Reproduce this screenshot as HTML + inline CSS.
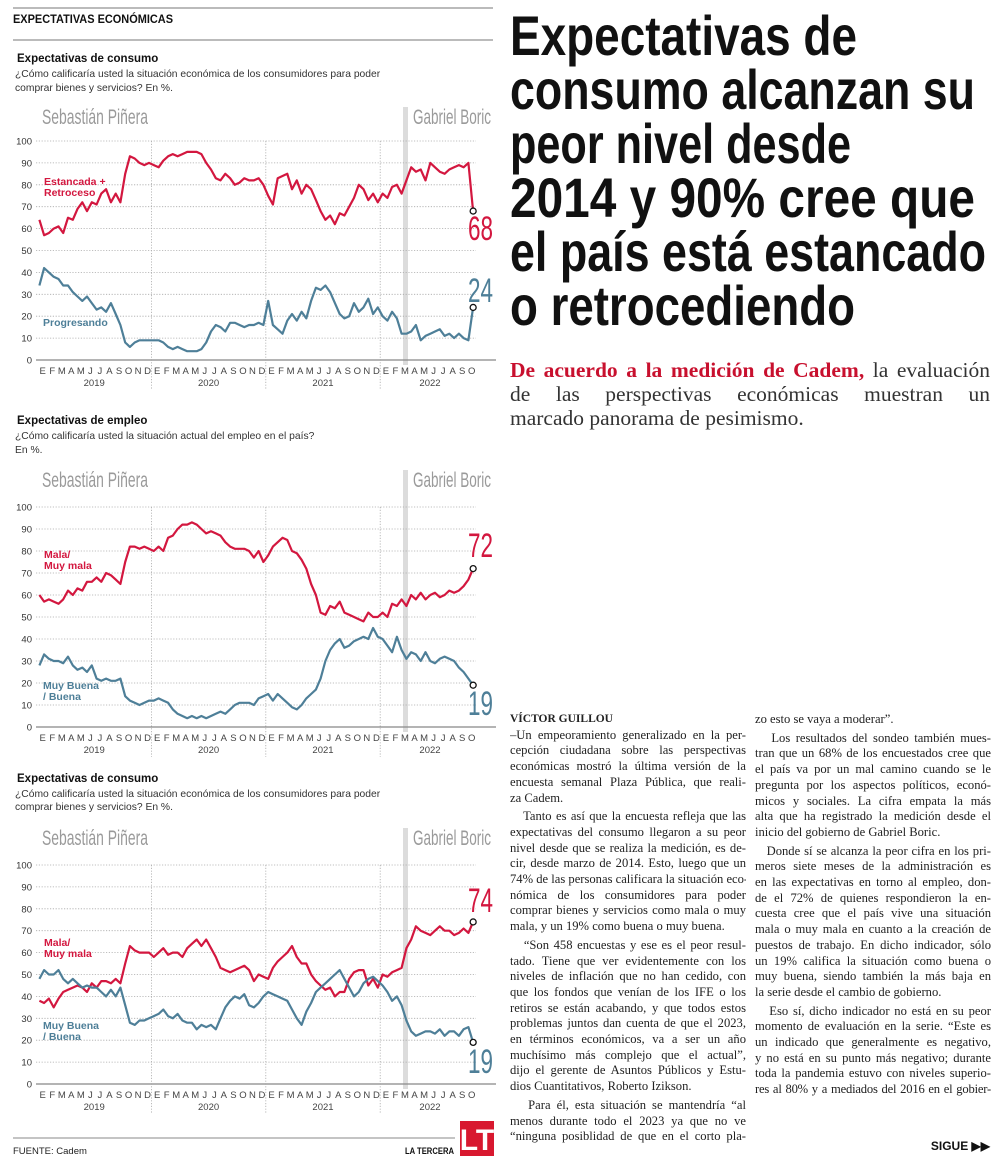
<!DOCTYPE html>
<html><head><meta charset="utf-8">
<style>
body{margin:0;background:#fff;width:1000px;height:1176px;position:relative;overflow:hidden;font-family:"Liberation Serif",serif;}
#gfx{position:absolute;left:0;top:0;}
.col{position:absolute;top:712px;width:236px;font-size:12.6px;line-height:15.7px;color:#222;font-family:"Liberation Serif",serif;}
.col div{text-align:justify;text-align-last:justify;white-space:nowrap;overflow:hidden;}
.col div.l{text-align-last:left;}
.col div.p{margin-top:3px;}
.sub{position:absolute;left:510px;top:358px;width:480px;font-size:21.5px;line-height:24px;color:#333;}
.sub div{white-space:nowrap;text-align:justify;text-align-last:justify;}
.sub div.l{text-align-last:left;}
</style></head>
<body>
<svg id="gfx" width="1000" height="1176" xmlns="http://www.w3.org/2000/svg">
<g>
<line x1="13" y1="8" x2="493" y2="8" stroke="#777" stroke-width="1"/>
<text x="13" y="23" font-family="Liberation Sans, sans-serif" font-weight="bold" font-size="11.5" fill="#111" textLength="160" lengthAdjust="spacingAndGlyphs">EXPECTATIVAS ECONÓMICAS</text>
<line x1="13" y1="40" x2="493" y2="40" stroke="#777" stroke-width="1"/>
</g>
<g font-family="Liberation Sans, sans-serif" font-weight="bold" font-size="56" fill="#111">
<text x="510" y="55" textLength="347" lengthAdjust="spacingAndGlyphs">Expectativas de</text>
<text x="510" y="109" textLength="465" lengthAdjust="spacingAndGlyphs">consumo alcanzan su</text>
<text x="510" y="163" textLength="341" lengthAdjust="spacingAndGlyphs">peor nivel desde</text>
<text x="510" y="217" textLength="465" lengthAdjust="spacingAndGlyphs">2014 y 90% cree que</text>
<text x="510" y="271" textLength="476" lengthAdjust="spacingAndGlyphs">el país está estancado</text>
<text x="510" y="325" textLength="345" lengthAdjust="spacingAndGlyphs">o retrocediendo</text>
</g>
<g id="charts"></g>
<g>
<line x1="13" y1="1138" x2="455" y2="1138" stroke="#888" stroke-width="1"/>
<text x="13" y="1154" font-family="Liberation Sans, sans-serif" font-size="9.5" fill="#222">FUENTE: Cadem</text>
<text x="405" y="1154" font-family="Liberation Sans, sans-serif" font-weight="bold" font-size="9.5" fill="#111" textLength="49" lengthAdjust="spacingAndGlyphs">LA TERCERA</text>
<rect x="460" y="1121" width="34" height="35" fill="#d8182f"/>
<text x="477" y="1150" text-anchor="middle" font-family="Liberation Sans Narrow, Liberation Sans, sans-serif" font-weight="bold" font-size="30" fill="#fff">LT</text>
<text x="990" y="1150" text-anchor="end" font-family="Liberation Sans, sans-serif" font-weight="bold" font-size="12" fill="#111">SIGUE ▶▶</text>
</g>
</svg>

<div class="sub">
<div><b style="color:#c8102e">De acuerdo a la medición de Cadem,</b> la evaluación</div>
<div>de las perspectivas económicas muestran un</div>
<div class="l">marcado panorama de pesimismo.</div>
</div>

<div class="col" style="left:510px">
<div class="l" style="font-weight:bold;font-size:11.5px">VÍCTOR GUILLOU</div>
<div>–Un empeoramiento generalizado en la per-</div>
<div>cepción ciudadana sobre las perspectivas</div>
<div>económicas mostró la última versión de la</div>
<div>encuesta semanal Plaza Pública, que reali-</div>
<div class="l">za Cadem.</div>
<div class="p">&nbsp;&nbsp;&nbsp;Tanto es así que la encuesta refleja que las</div>
<div>expectativas del consumo llegaron a su peor</div>
<div>nivel desde que se realiza la medición, es de-</div>
<div>cir, desde marzo de 2014. Esto, luego que un</div>
<div>74% de las personas calificara la situación eco-</div>
<div>nómica de los consumidores para poder</div>
<div>comprar bienes y servicios como mala o muy</div>
<div class="l">mala, y un 19% como buena o muy buena.</div>
<div class="p">&nbsp;&nbsp;&nbsp;“Son 458 encuestas y ese es el peor resul-</div>
<div>tado. Tiene que ver evidentemente con los</div>
<div>niveles de inflación que no han cedido, con</div>
<div>que los fondos que venían de los IFE o los</div>
<div>retiros se están acabando, y que todos estos</div>
<div>problemas juntos dan cuenta de que el 2023,</div>
<div>en términos económicos, va a ser un año</div>
<div>muchísimo más complejo que el actual”,</div>
<div>dijo el gerente de Asuntos Públicos y Estu-</div>
<div class="l">dios Cuantitativos, Roberto Izikson.</div>
<div class="p">&nbsp;&nbsp;&nbsp;Para él, esta situación se mantendría “al</div>
<div>menos durante todo el 2023 ya que no ve</div>
<div>“ninguna posiblidad de que en el corto pla-</div>
</div>

<div class="col" style="left:755px">
<div class="l">zo esto se vaya a moderar”.</div>
<div class="p">&nbsp;&nbsp;&nbsp;Los resultados del sondeo también mues-</div>
<div>tran que un 68% de los encuestados cree que</div>
<div>el país va por un mal camino cuando se le</div>
<div>pregunta por los aspectos políticos, econó-</div>
<div>micos y sociales. La cifra empata la más</div>
<div>alta que ha registrado la medición desde el</div>
<div class="l">inicio del gobierno de Gabriel Boric.</div>
<div class="p">&nbsp;&nbsp;&nbsp;Donde sí se alcanza la peor cifra en los pri-</div>
<div>meros siete meses de la administración es</div>
<div>en las expectativas en torno al empleo, don-</div>
<div>de el 72% de quienes respondieron la en-</div>
<div>cuesta cree que el país vive una situación</div>
<div>mala o muy mala en cuanto a la creación de</div>
<div>puestos de trabajo. En dicho indicador, sólo</div>
<div>un 19% califica la situación como buena o</div>
<div>muy buena, siendo también la más baja en</div>
<div class="l">la serie desde el cambio de gobierno.</div>
<div class="p">&nbsp;&nbsp;&nbsp;Eso sí, dicho indicador no está en su peor</div>
<div>momento de evaluación en la serie. “Este es</div>
<div>un indicado que generalmente es negativo,</div>
<div>y no está en su punto más negativo; durante</div>
<div>toda la pandemia estuvo con niveles superio-</div>
<div style="letter-spacing:-0.2px">res al 80% y a mediados del 2016 en el gobier-</div>
</div>

<script>
// Semi-monthly values, Jan 2019 – Oct 2022
const monthLetters = ["E","F","M","A","M","J","J","A","S","O","N","D"];
const yearLabels = ["2019","2020","2021","2022"];
const yTicks = [0,10,20,30,40,50,60,70,80,90,100];

const c1Red = [64,57,58,60,61,58,65,64,69,72,68,72,71,76,78,72,76,72,85,93,92,90,89,90,
 89,88,91,93,94,93,94,95,95,95,94,90,87,83,82,85,83,80,81,83,82,82,83,80,
 75,71,83,84,85,78,82,76,80,78,73,68,64,66,62,67,66,70,74,80,78,73,76,72,
 76,74,79,80,76,82,88,86,87,82,90,88,86,85,87,88,89,88,90,68];
const c1Blue = [34,42,40,38,37,34,34,31,29,27,29,26,23,24,22,26,21,16,8,6,8,9,9,9,
 9,9,8,6,5,6,5,4,4,4,5,8,13,16,15,13,17,17,16,15,16,16,17,16,
 27,16,14,12,18,21,18,22,19,27,33,32,34,31,26,21,19,20,26,22,24,28,21,24,
 20,18,22,19,12,12,13,16,9,11,12,13,14,11,12,10,12,10,9,24];
const c2Red = [60,57,58,57,56,58,62,60,63,62,66,66,68,66,70,69,67,65,75,82,82,81,82,81,
 80,82,80,86,87,90,92,92,93,92,90,88,89,88,87,84,82,81,81,81,80,77,80,75,
 78,82,84,86,85,80,79,76,72,65,60,52,51,55,54,57,52,51,50,49,48,52,50,50,
 52,50,56,55,58,55,60,58,61,58,60,61,59,60,62,61,62,64,67,72];
const c2Blue = [28,33,31,30,30,29,32,28,26,27,25,28,22,21,22,21,21,22,14,12,11,10,11,12,
 12,13,12,11,8,6,5,4,5,4,5,4,5,6,7,6,8,10,11,11,11,10,13,14,
 15,12,15,13,11,9,8,10,13,15,17,22,30,35,38,40,36,37,39,40,41,40,45,41,
 40,37,34,41,35,31,34,33,30,34,30,29,31,32,31,30,27,25,22,19];
const c3Red = [38,37,39,35,39,42,43,44,45,44,42,46,44,47,47,46,48,46,55,63,61,60,60,60,
 58,60,62,59,60,60,58,62,64,66,63,66,62,58,53,52,51,52,53,54,52,47,50,49,
 48,53,56,58,60,63,58,55,55,50,47,45,43,44,40,42,42,48,51,52,52,45,48,44,
 50,49,51,52,53,62,66,72,70,69,68,70,72,70,70,68,69,71,69,74];
const c3Blue = [48,52,50,50,52,48,46,48,46,44,45,44,44,42,40,43,40,44,36,28,27,29,29,30,
 31,32,34,31,30,32,29,28,28,25,27,26,27,25,30,35,38,40,39,41,36,35,37,40,
 42,41,40,39,38,34,30,27,33,37,42,44,46,48,50,52,48,44,40,42,46,48,49,47,
 45,42,38,40,36,29,24,22,23,24,24,23,25,22,24,24,22,25,26,19];

const chartDefs = [
 {name:"consumo-chart-1",title:"Expectativas de consumo",
  sub:["¿Cómo calificaría usted la situación económica de los consumidores para poder"," comprar bienes y servicios? En %."],
  titleY:62,subY:[77,91],presY:124,barTop:107,y100:141,y0:360,red:c1Red,blue:c1Blue,
  redLab:["Estancada +","Retroceso"],redLabY:185,blueLab:["Progresando"],blueLabY:326,redEndY:240,blueEndY:302},
 {name:"empleo-chart",title:"Expectativas de empleo",
  sub:["¿Cómo calificaría usted la situación actual del empleo en el país?"," En %."],
  titleY:424,subY:[439,453],presY:487,barTop:470,y100:507,y0:727,red:c2Red,blue:c2Blue,
  redLab:["Mala/","Muy mala"],redLabY:558,blueLab:["Muy Buena","/ Buena"],blueLabY:689,redEndY:557,blueEndY:715},
 {name:"consumo-chart-2",title:"Expectativas de consumo",
  sub:["¿Cómo calificaría usted la situación económica de los consumidores para poder","comprar bienes y servicios?  En %."],
  titleY:782,subY:[797,810],presY:845,barTop:828,y100:865,y0:1084,red:c3Red,blue:c3Blue,
  redLab:["Mala/","Muy mala"],redLabY:946,blueLab:["Muy Buena","/ Buena"],blueLabY:1029,redEndY:912,blueEndY:1073}
];

const NS="http://www.w3.org/2000/svg";
const root=document.getElementById("charts");
const RED="#d3173f", BLUE="#4e7f98";
const x0=37, monthW=114.4/12;
function mk(tag,attrs,parent){const e=document.createElementNS(NS,tag);for(const k in attrs)e.setAttribute(k,attrs[k]);parent.appendChild(e);return e;}
function txt(s,attrs,parent){const e=mk("text",attrs,parent);e.textContent=s;return e;}

chartDefs.forEach(function(d){
  const g=mk("g",{},root);
  
  
  const yS=v=>d.y0+(d.y100-d.y0)*v/100;
  const xS=i=>x0+(i+0.5)*monthW/2;
  const t=txt(d.title,{x:17,y:d.titleY,"font-family":"Liberation Sans, sans-serif","font-weight":"bold","font-size":"11.5",fill:"#111"},g);
  
  
  d.sub.forEach(function(s,k){
    const st=txt(s,{x:15,y:d.subY[k],"font-family":"Liberation Sans, sans-serif","font-size":"10.3",fill:"#333","xml:space":"preserve"},g);
    
    
  });
  const bar=mk("rect",{x:403,y:d.barTop,width:5,height:d.y0+5-d.barTop,fill:"#dcdcdc"},g);
  
  
  const p1=txt("Sebastián Piñera",{x:42,y:d.presY,"font-family":"Liberation Sans Narrow, Liberation Sans, sans-serif","font-size":"21",fill:"#9a9a9a",textLength:"106",lengthAdjust:"spacingAndGlyphs"},g);
  
  
  const p2=txt("Gabriel Boric",{x:413,y:d.presY,"font-family":"Liberation Sans Narrow, Liberation Sans, sans-serif","font-size":"21",fill:"#9a9a9a",textLength:"78",lengthAdjust:"spacingAndGlyphs"},g);
  
  
  yTicks.forEach(function(v){
    const y=yS(v);
    if(v>0){
      const gl=mk("line",{x1:36,y1:y,x2:476,y2:y,stroke:"#aaa","stroke-width":"0.8","stroke-dasharray":"1.2,1.6"},g);
      
      
    }
    const tl=txt(String(v),{x:32,y:y+3.5,"text-anchor":"end","font-family":"Liberation Sans, sans-serif","font-size":"9.5",fill:"#333"},g);
    
    
  });
  for(let k=1;k<4;k++){
    const x=x0+k*12*monthW;
    const vl=mk("line",{x1:x,y1:d.y100,x2:x,y2:d.y0+30,stroke:"#aaa","stroke-width":"0.8","stroke-dasharray":"1.2,1.6"},g);
    
    
  }
  const ax=mk("line",{x1:36,y1:d.y0,x2:496,y2:d.y0,stroke:"#888","stroke-width":"1.3"},g);
  
  
  for(let m=0;m<46;m++){
    const ml=txt(monthLetters[m%12],{x:x0+(m+0.6)*monthW,y:d.y0+14,"text-anchor":"middle","font-family":"Liberation Sans, sans-serif","font-size":"9.5",fill:"#444"},g);
    
    
  }
  yearLabels.forEach(function(yl,k){
    const cx=k<3?x0+(k*12+6)*monthW:430;
    const ye=txt(yl,{x:cx,y:d.y0+26,"text-anchor":"middle","font-family":"Liberation Sans, sans-serif","font-size":"9.5",fill:"#444"},g);
    
    
  });
  [[d.red,RED,"red-series"],[d.blue,BLUE,"blue-series"]].forEach(function(s){
    const pts=s[0].map((v,i)=>xS(i).toFixed(1)+","+yS(v).toFixed(1)).join(" ");
    const pl=mk("polyline",{points:pts,fill:"none",stroke:s[1],"stroke-width":"2.2","stroke-linejoin":"round"},g);
    
    
    const n=s[0].length-1;
    const c=mk("circle",{cx:xS(n),cy:yS(s[0][n]),r:3,fill:"#fff",stroke:"#111","stroke-width":"1.3"},g);
    
    
  });
  const re=txt(String(d.red[d.red.length-1]),{x:493,y:d.redEndY,"text-anchor":"end","font-family":"Liberation Sans Narrow, Liberation Sans, sans-serif","font-size":"34",fill:RED,textLength:"25",lengthAdjust:"spacingAndGlyphs"},g);
  
  
  const be=txt(String(d.blue[d.blue.length-1]),{x:493,y:d.blueEndY,"text-anchor":"end","font-family":"Liberation Sans Narrow, Liberation Sans, sans-serif","font-size":"34",fill:BLUE,textLength:"25",lengthAdjust:"spacingAndGlyphs"},g);
  
  
  d.redLab.forEach(function(s,k){
    const l=txt(s,{x:44,y:d.redLabY+k*11,"font-family":"Liberation Sans, sans-serif","font-weight":"bold","font-size":"10.5",fill:RED},g);
    
    
  });
  d.blueLab.forEach(function(s,k){
    const l=txt(s,{x:43,y:d.blueLabY+k*11,"font-family":"Liberation Sans, sans-serif","font-weight":"bold","font-size":"10.5",fill:BLUE},g);
    
    
  });
});
</script>
</body></html>
